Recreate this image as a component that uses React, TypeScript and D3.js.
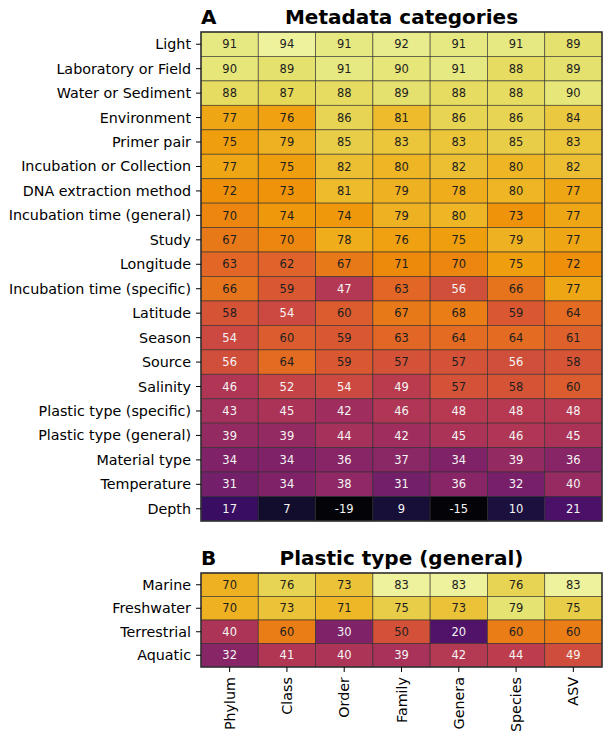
import React from "react";
import * as d3 from "d3";

const columns = ["Phylum", "Class", "Order", "Family", "Genera", "Species", "ASV"];

const rowsA = [
  "Light",
  "Laboratory or Field",
  "Water or Sediment",
  "Environment",
  "Primer pair",
  "Incubation or Collection",
  "DNA extraction method",
  "Incubation time (general)",
  "Study",
  "Longitude",
  "Incubation time (specific)",
  "Latitude",
  "Season",
  "Source",
  "Salinity",
  "Plastic type (specific)",
  "Plastic type (general)",
  "Material type",
  "Temperature",
  "Depth",
];

const valuesA: number[][] = [
  [91, 94, 91, 92, 91, 91, 89],
  [90, 89, 91, 90, 91, 88, 89],
  [88, 87, 88, 89, 88, 88, 90],
  [77, 76, 86, 81, 86, 86, 84],
  [75, 79, 85, 83, 83, 85, 83],
  [77, 75, 82, 80, 82, 80, 82],
  [72, 73, 81, 79, 78, 80, 77],
  [70, 74, 74, 79, 80, 73, 77],
  [67, 70, 78, 76, 75, 79, 77],
  [63, 62, 67, 71, 70, 75, 72],
  [66, 59, 47, 63, 56, 66, 77],
  [58, 54, 60, 67, 68, 59, 64],
  [54, 60, 59, 63, 64, 64, 61],
  [56, 64, 59, 57, 57, 56, 58],
  [46, 52, 54, 49, 57, 58, 60],
  [43, 45, 42, 46, 48, 48, 48],
  [39, 39, 44, 42, 45, 46, 45],
  [34, 34, 36, 37, 34, 39, 36],
  [31, 34, 38, 31, 36, 32, 40],
  [17, 7, -19, 9, -15, 10, 21],
];

const rowsB = ["Marine", "Freshwater", "Terrestrial", "Aquatic"];

const valuesB: number[][] = [
  [70, 76, 73, 83, 83, 76, 83],
  [70, 73, 71, 75, 73, 79, 75],
  [40, 60, 30, 50, 20, 60, 60],
  [32, 41, 40, 39, 42, 44, 49],
];

const FONT = "DejaVu Sans, sans-serif";
const LEFT = 201;
const RIGHT = 602;

function cellColor(t: number) {
  const c = Math.max(0, Math.min(1, t));
  return d3.interpolateRgb(d3.interpolateInferno(c), "#404040")(0.07);
}

type PanelProps = {
  letter: string;
  title: string;
  rows: string[];
  values: number[][];
  top: number;
  bottom: number;
  titleY: number;
  showX: boolean;
};

function Panel({ letter, title, rows, values, top, bottom, titleY, showX }: PanelProps) {
  const x = d3.scaleBand<string>().domain(columns).range([LEFT, RIGHT]);
  const y = d3.scaleBand<string>().domain(rows).range([top, bottom]);
  const vmax = d3.max(values.flat()) as number;
  const norm = d3.scaleLinear().domain([0, vmax]).range([0, 1]);
  return (
    <g>
      <text x={LEFT} y={titleY} fontFamily={FONT} fontWeight="bold" fontSize={20} fill="#000">
        {letter}
      </text>
      <text
        x={(LEFT + RIGHT) / 2}
        y={titleY}
        fontFamily={FONT}
        fontWeight="bold"
        fontSize={20}
        textAnchor="middle"
        fill="#000"
      >
        {title}
      </text>
      {rows.map((r, i) =>
        columns.map((c, j) => {
          const v = values[i][j];
          const t = norm(v);
          return (
            <g key={r + c}>
              <rect
                x={x(c)}
                y={y(r)}
                width={x.bandwidth()}
                height={y.bandwidth()}
                fill={cellColor(t)}
                stroke="#2a2a2a"
                strokeOpacity={0.7}
                strokeWidth={0.8}
              />
              <text
                x={(x(c) as number) + x.bandwidth() / 2}
                y={(y(r) as number) + y.bandwidth() / 2}
                dy="0.36em"
                textAnchor="middle"
                fontFamily={FONT}
                fontSize={11.5}
                fill={t >= 0.6 ? "#1e1e1e" : "#f5f5f5"}
              >
                {v}
              </text>
            </g>
          );
        })
      )}
      <rect
        x={LEFT}
        y={top}
        width={RIGHT - LEFT}
        height={bottom - top}
        fill="none"
        stroke="#333"
        strokeWidth={1.5}
      />
      {rows.map((r) => {
        const cy = (y(r) as number) + y.bandwidth() / 2;
        return (
          <g key={"yl" + r}>
            <line x1={LEFT - 5} x2={LEFT} y1={cy} y2={cy} stroke="#000" strokeWidth={1} />
            <text
              x={LEFT - 10}
              y={cy}
              dy="0.35em"
              textAnchor="end"
              fontFamily={FONT}
              fontSize={14.3}
              fill="#000"
            >
              {r}
            </text>
          </g>
        );
      })}
      {showX &&
        columns.map((c) => {
          const cx = (x(c) as number) + x.bandwidth() / 2;
          return (
            <g key={"xl" + c}>
              <line x1={cx} x2={cx} y1={bottom} y2={bottom + 5} stroke="#000" strokeWidth={1} />
              <text
                transform={`translate(${cx},${bottom + 10}) rotate(-90)`}
                dy="0.35em"
                textAnchor="end"
                fontFamily={FONT}
                fontSize={14.3}
                fill="#000"
              >
                {c}
              </text>
            </g>
          );
        })}
    </g>
  );
}

export default function App() {
  return (
    <svg
      width={610}
      height={745}
      style={{ position: "absolute", left: 0, top: 0, background: "#fff" }}
    >
      <rect x={0} y={0} width={610} height={745} fill="#fff" />
      <Panel
        letter="A"
        title="Metadata categories"
        rows={rowsA}
        values={valuesA}
        top={32}
        bottom={521}
        titleY={24}
        showX={false}
      />
      <Panel
        letter="B"
        title="Plastic type (general)"
        rows={rowsB}
        values={valuesB}
        top={573}
        bottom={667}
        titleY={565}
        showX={true}
      />
    </svg>
  );
}
